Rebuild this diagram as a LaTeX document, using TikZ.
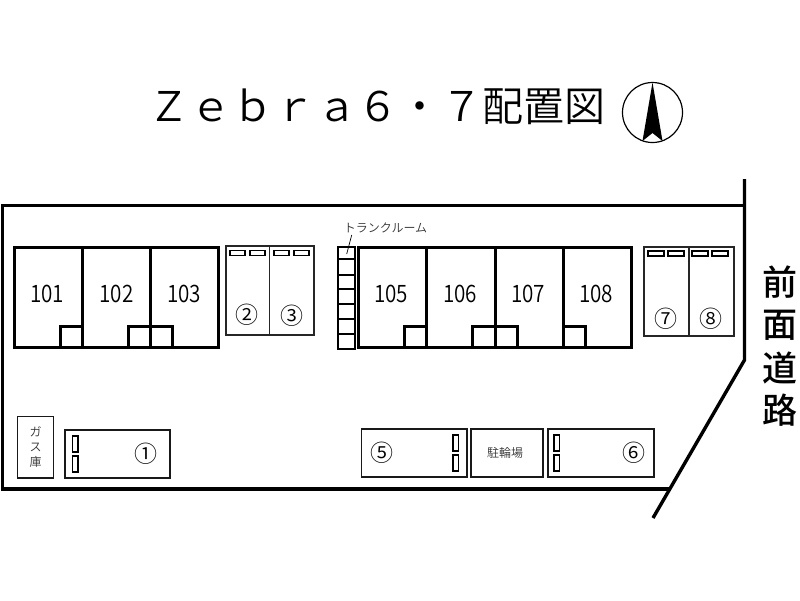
\documentclass[tikz,border=0pt]{standalone}
\usepackage{fontspec}
\setmainfont{Noto Sans CJK JP DemiLight}
\newfontfamily\roadfont{Noto Sans CJK JP Medium}
\begin{document}
\begin{tikzpicture}[x=1pt,y=-1pt,
  thick line/.style={line width=3.4pt,line cap=butt,line join=miter},
  bldg/.style={line width=3pt,draw=black},
  port/.style={line width=1.6pt,draw=black!85},
  low/.style={line width=1.8pt,draw=black!90},
  lbl/.style={inner sep=0pt,font=\fontsize{24}{24}\selectfont\addfontfeature{FakeStretch=0.86}},
  circ/.style={inner sep=0pt,font=\fontsize{23}{23}\selectfont},
  small/.style={inner sep=0pt,font=\fontsize{12}{12}\selectfont,text=black!80},
  road/.style={inner sep=0pt,font=\fontsize{35}{35}\selectfont\roadfont}]
\useasboundingbox (0,0) rectangle (800,600);
\fill[white] (0,0) rectangle (800,600);
% title
\node[inner sep=0pt,font=\fontsize{41}{41}\selectfont] (title) at (377.25,107) {{\addfontfeature{LetterSpace=2}Ｚｅｂｒａ６・７}配置図};
% compass
\node[draw,circle,line width=1.2pt,minimum size=60pt,inner sep=0pt,outer sep=0pt] (comp) at (652.5,112.5) {};
\fill (comp.north) -- (662.5,141) -- (652.5,133) -- (642.5,141) -- cycle;
% site
\draw[thick line] (744.5,179) -- (744.5,360) -- (653,518);
\draw[thick line] (744.5,205.5) -- (2.5,205.5) -- (2.5,489) -- (669,489);
% building left
\draw[bldg] (60,347) |- (82,326);
\draw[bldg] (128,347) |- (172,326) -- (172,347);
\draw[bldg] (150,326) -- (150,347);
\draw[bldg] (14,247.5) rectangle (218,347);
\draw[bldg] (82,247.5) -- (82,347) (150,247.5) -- (150,347);
\node[lbl] (n101) at (47,294) {101};
\node[lbl] (n102) at (116.5,294) {102};
\node[lbl] (n103) at (184,294) {103};
% carport 2 3
\draw[port] (226,246) rectangle (314,335) (269.5,246) -- (269.5,335);
\foreach \x in {230,250,274,294} \draw[line width=1.3pt] (\x,250.5) rectangle ++(15,5);
\node[circ] (c2) at (247,315) {②};
\node[circ] (c3) at (292,316) {③};
% trunk room
\draw[line width=1.6pt] (338,247) rectangle (355,349);
\foreach \y in {259,275,289,304,319,334} \draw[line width=1.3pt] (338,\y) -- (355,\y);
\node[small] (tr) at (385.5,228) {トランクルーム};
\coordinate (trc) at (346.7,254);
\draw[line width=.7pt] (351.7,235) -- (trc);
% building right
\draw[bldg] (404,347) |- (426,326);
\draw[bldg] (472,347) |- (517,326) -- (517,347);
\draw[bldg] (495,326) -- (495,347);
\draw[bldg] (563,326) -| (585,347);
\draw[bldg] (358.5,247.5) rectangle (631.5,347.5);
\draw[bldg] (426,247.5) -- (426,347.5) (495,247.5) -- (495,347.5) (563,247.5) -- (563,347.5);
\node[lbl] (n105) at (391,294) {105};
\node[lbl] (n106) at (460,294) {106};
\node[lbl] (n107) at (528,294) {107};
\node[lbl] (n108) at (596,294) {108};
% carport 7 8
\draw[port] (644,247) rectangle (734,336) (689,247) -- (689,336);
\foreach \x in {648,668,692,712} \draw[line width=1.3pt] (\x,251) rectangle ++(16,5);
\node[circ] (c7) at (666,319) {⑦};
\node[circ] (c8) at (711,319) {⑧};
% bottom row
\draw[low] (17.5,416.5) rectangle (53.5,478);
\node[small] (gas1) at (35.5,432) {ガ};
\node[small] (gas2) at (35.5,447) {ス};
\node[small] (gas3) at (35.5,462) {庫};
\draw[low] (65,430) rectangle (170,478);
\foreach \y in {436,456} \draw[line width=1.3pt] (72.5,\y) rectangle ++(5.5,16);
\node[circ] (c1) at (145.5,454) {①};
\draw[low] (361.5,429) rectangle (467,477);
\foreach \y in {435,455} \draw[line width=1.3pt] (453,\y) rectangle ++(5.5,16);
\node[circ] (c5) at (381.5,453) {⑤};
\draw[low] (471,429) rectangle (543,477);
\node[small] (bike) at (505,453) {駐輪場};
\draw[low] (548,429) rectangle (654,477);
\foreach \y in {435,455} \draw[line width=1.3pt] (554,\y) rectangle ++(5.5,16);
\node[circ] (c6) at (634,453) {⑥};
% road
\node[road] (r1) at (780,282) {前};
\node[road] (r2) at (780,325) {面};
\node[road] (r3) at (780,368) {道};
\node[road] (r4) at (780,410) {路};
\end{tikzpicture}
\end{document}
